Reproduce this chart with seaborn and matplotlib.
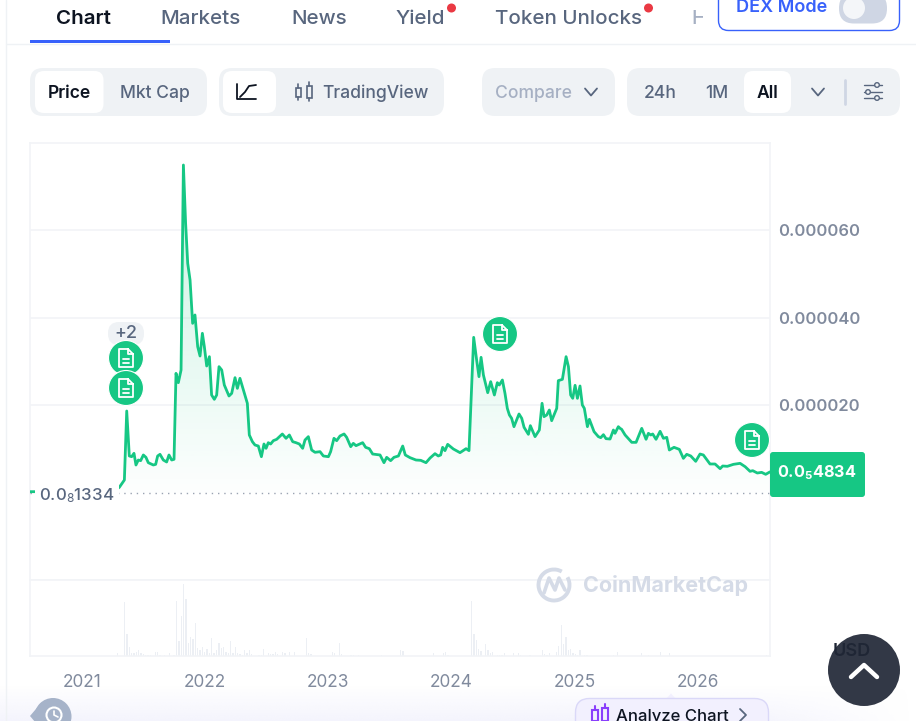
import numpy as np
import pandas as pd
import seaborn as sns
import matplotlib.pyplot as plt
from matplotlib.patches import FancyBboxPatch, Circle, Polygon, Arc

# price history, decimal year and price in millionths of a USD
price_year = [
    2020.578, 2021.254, 2021.303, 2021.344, 2021.363, 2021.384, 2021.403, 2021.422, 2021.438, 2021.457,
    2021.476, 2021.498, 2021.519, 2021.538, 2021.579, 2021.598, 2021.614, 2021.633, 2021.660, 2021.687,
    2021.706, 2021.728, 2021.747, 2021.763, 2021.782, 2021.804, 2021.823, 2021.841, 2021.858, 2021.877,
    2021.898, 2021.917, 2021.939, 2021.958, 2021.977, 2021.993, 2022.012, 2022.034, 2022.052, 2022.074,
    2022.093, 2022.112, 2022.134, 2022.155, 2022.193, 2022.215, 2022.242, 2022.261, 2022.282, 2022.310,
    2022.342, 2022.358, 2022.383, 2022.404, 2022.431, 2022.456, 2022.477, 2022.494, 2022.512, 2022.531,
    2022.553, 2022.580, 2022.626, 2022.656, 2022.683, 2022.710, 2022.737, 2022.764, 2022.791, 2022.810,
    2022.837, 2022.864, 2022.891, 2022.932, 2022.959, 2023.000, 2023.018, 2023.045, 2023.067, 2023.094,
    2023.127, 2023.148, 2023.181, 2023.202, 2023.224, 2023.278, 2023.302, 2023.332, 2023.359, 2023.419,
    2023.451, 2023.473, 2023.505, 2023.532, 2023.568, 2023.603, 2023.624, 2023.662, 2023.711, 2023.749,
    2023.792, 2023.825, 2023.865, 2023.892, 2023.911, 2023.927, 2023.946, 2023.968, 2024.014, 2024.068,
    2024.117, 2024.141, 2024.179, 2024.203, 2024.222, 2024.239, 2024.258, 2024.293, 2024.317, 2024.347,
    2024.371, 2024.387, 2024.412, 2024.433, 2024.452, 2024.469, 2024.487, 2024.506, 2024.547, 2024.569,
    2024.588, 2024.623, 2024.639, 2024.677, 2024.712, 2024.734, 2024.750, 2024.772, 2024.793, 2024.812,
    2024.853, 2024.866, 2024.899, 2024.929, 2024.948, 2024.966, 2024.983, 2025.002, 2025.021, 2025.042,
    2025.061, 2025.077, 2025.102, 2025.118, 2025.156, 2025.191, 2025.210, 2025.232, 2025.253, 2025.286,
    2025.313, 2025.326, 2025.353, 2025.367, 2025.380, 2025.408, 2025.462, 2025.497, 2025.543, 2025.578,
    2025.597, 2025.616, 2025.632, 2025.659, 2025.692, 2025.719, 2025.746, 2025.767, 2025.805, 2025.848,
    2025.881, 2025.908, 2025.941, 2025.981, 2026.016, 2026.043, 2026.097, 2026.138, 2026.179, 2026.200,
    2026.238, 2026.287, 2026.341, 2026.382, 2026.422, 2026.444, 2026.481, 2026.516, 2026.549, 2026.584,
]
price_micro = [
    0.30, 0.30, 1.30, 2.97, 18.74, 8.46, 8.30, 9.07, 6.40, 7.54,
    7.39, 8.69, 8.15, 6.93, 6.40, 6.55, 8.46, 8.84, 7.54, 7.09,
    8.69, 7.54, 7.70, 27.35, 25.22, 28.11, 74.97, 61.64, 52.50, 48.69,
    38.78, 40.69, 33.45, 31.31, 36.50, 33.45, 29.03, 31.16, 22.40, 21.41,
    22.40, 28.88, 28.11, 24.69, 22.17, 22.78, 26.36, 23.92, 26.21, 23.54,
    20.50, 13.26, 11.73, 10.97, 10.74, 8.30, 11.20, 10.21, 11.50, 11.20,
    11.96, 12.27, 13.49, 12.50, 13.26, 11.73, 11.50, 11.20, 10.21, 12.11,
    12.88, 9.83, 9.30, 9.45, 8.46, 8.30, 9.45, 12.50, 11.96, 13.03,
    13.49, 12.72, 10.59, 11.35, 10.82, 11.50, 10.44, 10.13, 8.91, 8.69,
    6.93, 8.15, 7.39, 8.15, 8.46, 10.74, 8.69, 8.08, 7.54, 7.47,
    6.93, 8.00, 8.99, 8.46, 8.69, 10.44, 9.68, 11.12, 10.06, 9.22,
    10.13, 9.68, 35.58, 30.40, 26.59, 31.01, 26.97, 22.93, 25.45, 22.40,
    25.22, 24.69, 25.83, 22.78, 19.35, 17.83, 17.07, 15.16, 18.06, 17.07,
    15.01, 13.41, 15.39, 12.88, 14.40, 20.50, 17.45, 17.83, 18.97, 16.53,
    19.35, 25.68, 25.98, 31.16, 28.88, 22.40, 21.64, 24.61, 21.64, 24.46,
    20.11, 19.35, 15.16, 16.84, 14.02, 12.88, 12.65, 13.33, 12.42, 12.34,
    14.40, 13.64, 15.16, 14.78, 14.55, 13.26, 11.58, 11.58, 14.78, 12.27,
    13.64, 13.26, 13.49, 12.27, 14.10, 12.50, 12.72, 9.83, 10.44, 9.98,
    7.92, 8.84, 8.46, 7.24, 8.91, 8.69, 6.63, 6.63, 5.56, 6.17,
    6.10, 6.55, 6.78, 6.02, 4.95, 5.10, 4.57, 4.72, 4.27, 4.83,
]

# weekly volume, relative units
volume_year = [
    2021.287, 2021.346, 2021.365, 2021.384, 2021.403, 2021.422, 2021.444, 2021.460, 2021.479, 2021.498,
    2021.517, 2021.536, 2021.555, 2021.595, 2021.614, 2021.633, 2021.671, 2021.709, 2021.747, 2021.768,
    2021.787, 2021.806, 2021.825, 2021.844, 2021.863, 2021.882, 2021.901, 2021.920, 2021.939, 2021.958,
    2021.977, 2021.996, 2022.015, 2022.034, 2022.052, 2022.071, 2022.090, 2022.112, 2022.131, 2022.150,
    2022.169, 2022.188, 2022.207, 2022.226, 2022.245, 2022.264, 2022.282, 2022.301, 2022.320, 2022.339,
    2022.358, 2022.377, 2022.437, 2022.456, 2022.475, 2022.512, 2022.531, 2022.550, 2022.569, 2022.588,
    2022.629, 2022.648, 2022.686, 2022.723, 2022.821, 2022.840, 2022.859, 2023.032, 2023.051, 2023.089,
    2023.108, 2023.183, 2023.203, 2023.243, 2023.432, 2023.587, 2023.606, 2023.854, 2023.933, 2023.952,
    2023.971, 2024.163, 2024.182, 2024.201, 2024.220, 2024.239, 2024.277, 2024.296, 2024.315, 2024.333,
    2024.371, 2024.390, 2024.409, 2024.428, 2024.504, 2024.542, 2024.561, 2024.636, 2024.737, 2024.755,
    2024.774, 2024.793, 2024.850, 2024.869, 2024.891, 2024.910, 2024.929, 2024.948, 2024.966, 2024.985,
    2025.004, 2025.023, 2025.042, 2025.080, 2025.099, 2025.313, 2025.348, 2025.540, 2025.597, 2025.694,
    2025.770, 2026.557,
]
volume_rel = [
    8, 161, 66, 26, 8, 8, 13, 18, 8, 5,
    3, 2, 3, 13, 13, 4, 4, 8, 3, 166,
    45, 120, 216, 170, 40, 58, 50, 98, 23, 18,
    26, 13, 22, 10, 53, 8, 18, 40, 23, 26,
    13, 8, 45, 8, 26, 8, 6, 4, 18, 8,
    18, 6, 4, 4, 22, 8, 6, 6, 13, 6,
    13, 8, 13, 13, 53, 8, 6, 13, 8, 40,
    6, 4, 4, 4, 4, 18, 15, 8, 8, 13,
    4, 166, 66, 48, 21, 15, 36, 18, 8, 13,
    4, 4, 4, 8, 8, 8, 4, 4, 18, 6,
    4, 8, 13, 30, 93, 36, 58, 18, 20, 8,
    6, 4, 18, 4, 4, 4, 13, 8, 4, 13,
    8, 4,
]

year_ticks = [2021, 2022, 2023, 2024, 2025, 2026]
price_ticks = [20, 40, 60]
price_tick_labels = ['0.000020', '0.000040', '0.000060']
tab_labels = ['Chart', 'Markets', 'News', 'Yield', 'Token Unlocks']

GREEN = '#16C784'
SLATE = '#58667E'
TICK = '#808A9D'
DARK = '#0D1421'
BLUE = '#3861FB'
CHIP = '#EFF2F5'
GRID = '#F2F4F7'

sns.set_theme(style='white')
plt.rcParams['font.family'] = ['Inter', 'DejaVu Sans']
plt.rcParams['mathtext.fontset'] = 'custom'
plt.rcParams['mathtext.rm'] = 'Inter'
plt.rcParams['mathtext.bf'] = 'Inter:bold'
plt.rcParams['mathtext.default'] = 'rm'

W, H = 916, 721
fig = plt.figure(figsize=(W / 100, H / 100), dpi=100, facecolor='white')

# chart panes, positioned in pixels
ax = fig.add_axes([30 / W, 1 - 580 / H, 740 / W, 437 / H])
ax_vol = fig.add_axes([30 / W, 1 - 656 / H, 740 / W, 76 / H])
xlim = (price_year[0], price_year[-1])

df = pd.DataFrame({'year': price_year, 'price': price_micro})
vol = pd.DataFrame({'year': volume_year, 'volume': volume_rel})

sns.lineplot(data=df, x='year', y='price', ax=ax, color=GREEN, lw=2.0, sort=False,
             estimator=None, errorbar=None, zorder=4)

# gradient under the line, clipped to the area
area = ax.fill_between(price_year, price_micro, 0, color='none', lw=0)
grad = np.zeros((256, 1, 4))
grad[..., :3] = (22 / 255, 199 / 255, 132 / 255)
grad[:, 0, 3] = np.linspace(0.24, 0.01, 256)
img = ax.imshow(grad, extent=[xlim[0], xlim[1], 0, max(price_micro)], aspect='auto', zorder=2)
img.set_clip_path(area.get_paths()[0], ax.transData)

ax.axhline(0, color='#9AA3B2', lw=1, ls=(0, (1, 3.5)), zorder=3)
ax.set_xlim(*xlim)
ax.set_ylim(-19.886, 80)
ax.set_yticks(price_ticks)
ax.set_yticklabels(price_tick_labels)
ax.yaxis.tick_right()
ax.set_xticks([])
ax.set_xlabel('')
ax.set_ylabel('')
ax.grid(axis='y', color=GRID, lw=1.2)
ax.tick_params(axis='y', length=0, pad=5.5, labelsize=11.9, labelcolor=TICK)
for t in ax.get_yticklabels():
    t.set_fontweight('semibold')

sns.barplot(data=vol, x='year', y='volume', ax=ax_vol, native_scale=True, color='#ECEFF4',
            saturation=1, width=0.65, linewidth=0)
ax_vol.set_xlim(*xlim)
ax_vol.set_ylim(0, 228)
ax_vol.set_yticks([])
ax_vol.set_xticks(year_ticks)
ax_vol.set_xticklabels([str(y) for y in year_ticks])
ax_vol.set_xlabel('')
ax_vol.set_ylabel('')
ax_vol.tick_params(axis='x', length=0, pad=13, labelsize=12.4, labelcolor=TICK)

for a in (ax, ax_vol):
    for s in a.spines.values():
        s.set_color(GRID)
        s.set_linewidth(1.2)

# page furniture drawn in pixel coordinates on top of the chart
ui = fig.add_axes([0, 0, 1, 1])
ui.set_xlim(0, W)
ui.set_ylim(H, 0)
ui.axis('off')
ui.patch.set_alpha(0)


def chip(x0, y0, x1, y1, r, fc, ec='none', lw=0, z=2):
    p = FancyBboxPatch((x0, y0), x1 - x0, y1 - y0, boxstyle=f'round,pad=0,rounding_size={r}',
                       fc=fc, ec=ec, lw=lw, zorder=z)
    ui.add_patch(p)


def label(x, y, s, size=12.6, color=SLATE, weight='medium', ha='center', z=5, **kw):
    return ui.text(x, y + 1.5, s, fontsize=size, color=color, fontweight=weight, ha=ha,
                   va='center', zorder=z, **kw)


def stroke(xs, ys, color='white', lw=1.5, z=6):
    ui.plot(xs, ys, color=color, lw=lw, solid_capstyle='round', solid_joinstyle='round', zorder=z)


def doc_badge(x, y):
    ui.add_patch(Circle((x, y), 17.5, fc=GREEN, ec='white', lw=0.8, zorder=6))
    stroke([x + 2, x - 7, x - 7, x + 7, x + 7, x + 2, x + 2, x + 7],
           [y - 9, y - 9, y + 9, y + 9, y - 4, y - 9, y - 4, y - 4], lw=1.3, z=7)
    stroke([x - 3, x + 3], [y + 1, y + 1], lw=1.3, z=7)
    stroke([x - 3, x + 3], [y + 5, y + 5], lw=1.3, z=7)


# bottom page tint, fading out towards the right edge
tint = np.zeros((40, 92, 4))
tint[..., :3] = (238 / 255, 238 / 255, 252 / 255)
tint[..., 3] = np.linspace(0, 0.6, 40)[:, None] * np.clip(np.linspace(9.16, 0, 92) / 1.6, 0, 1)[None, :]
ui.imshow(tint, extent=[0, W, H, 685], aspect='auto', zorder=0.5)
ui.set_xlim(0, W)
ui.set_ylim(H, 0)

# tabs
ui.plot([5.5, 5.5], [0, H], color=CHIP, lw=1, zorder=1)
ui.plot([6, W], [43.5, 43.5], color=CHIP, lw=1, zorder=1)
ui.add_patch(plt.Rectangle((30, 40), 140, 3, fc=BLUE, ec='none', zorder=3))
tab_x = [83, 200, 319, 420, 568.5]
for i, (name, x) in enumerate(zip(tab_labels, tab_x)):
    label(x, 17.5, name, size=14.8, color=DARK if i == 0 else SLATE, weight='semibold' if i == 0 else 'medium')
for x in (451.5, 648.5):
    ui.add_patch(Circle((x, 8), 4.5, fc='#EA3943', ec='none', zorder=6))
label(691.5, 17.5, 'H', size=14.8, color='#A6B0C3', ha='left')
ui.add_patch(plt.Rectangle((703, 4), 15, 30, fc='white', ec='none', zorder=5.5))

# DEX button
chip(718.5, -20, 899.5, 30.5, 10, 'white', ec=BLUE, lw=1, z=6)
label(782, 6, 'DEX Mode', size=13, color=BLUE, weight='semibold', z=7)
chip(839, -7, 887, 23.5, 15, '#CFD6E4', z=7)
ui.add_patch(Circle((854, 8), 11, fc='#F4F6F9', ec='none', zorder=8))

# control row
chip(30, 68, 207, 116, 13, CHIP)
chip(35, 71, 103.5, 113, 9, 'white', z=3)
label(69, 91.5, 'Price', color=DARK, weight='semibold')
label(154.5, 91.5, 'Mkt Cap')

chip(219, 68, 444, 116, 13, CHIP)
chip(223, 71, 276, 113, 9, 'white', z=3)
stroke([237, 237, 256], [84, 99, 99], color=DARK, lw=1.3)
stroke([240, 245, 249, 256], [97, 92, 86, 85], color=DARK, lw=1.3)
for cx, top, bot in ((298, 88, 97), (309, 86, 98)):
    ui.add_patch(plt.Rectangle((cx - 2.5, top), 5, bot - top, fc='none', ec=SLATE, lw=1.2, zorder=6))
    stroke([cx, cx], [top - 4, top], color=SLATE, lw=1.2)
    stroke([cx, cx], [bot, bot + 3], color=SLATE, lw=1.2)
label(375.5, 91.5, 'TradingView')

chip(482, 68, 615, 116, 13, CHIP)
label(534, 91.5, 'Compare', color='#A6B0C3')
stroke([585, 591, 597], [88.5, 95.5, 88.5], color=SLATE, lw=1.3)

chip(627, 68, 900, 116, 13, CHIP)
chip(744, 71, 791, 113, 9, 'white', z=3)
label(660, 91.5, '24h')
label(717, 91.5, '1M')
label(767.5, 91.5, 'All', color=DARK, weight='semibold')
stroke([812, 818, 824], [88.5, 95.5, 88.5], color=SLATE, lw=1.3)
ui.plot([845, 845], [80, 104], color='#CFD6E4', lw=2, zorder=6)
for yy, kx in ((85, 877), (92, 868), (98, 877)):
    stroke([864, 882], [yy, yy], color=SLATE, lw=1)
    ui.add_patch(Circle((kx, yy), 2.3, fc=CHIP, ec=SLATE, lw=1, zorder=7))

# chart annotations
chip(108, 322, 144, 345, 11, CHIP, z=5)
label(126, 332.5, '+2', size=13)
for bx, by in ((126, 358), (126, 388), (500, 334), (752, 440)):
    doc_badge(bx, by)

label(39, 494, r'0.0$_{8}$1334', size=12.2, color=SLATE, ha='left',
      bbox=dict(fc='white', ec='none', pad=3))
chip(770, 452, 865, 497, 3, GREEN, z=6)
label(817, 471, r'0.0$_{\mathbf{5}}$4834', size=11.7, color='white', weight='bold', z=7)

# watermark
ui.add_patch(Arc((554, 585), 31, 31, theta1=-30, theta2=300, ec='#D5DBE7', lw=2.8, zorder=3))
stroke([544, 549, 555, 559, 565], [593, 578, 590, 578, 590], color='#D5DBE7', lw=2.6, z=3)
label(665.5, 584.5, 'CoinMarketCap', size=15.5, color='#D5DBE7', weight='bold', z=3)

# bottom widgets
ui.add_patch(Circle((53, 716.5), 18.5, fc='#A6B3C9', ec='none', zorder=4))
ui.add_patch(Polygon([[30, 716], [41, 703], [41, 729]], fc='#A6B3C9', ec='none', zorder=4))
ui.add_patch(Circle((54, 715), 7.5, fc='none', ec='white', lw=1.5, zorder=5))
stroke([54, 54, 58], [711, 715, 717], lw=1.2)

ui.add_patch(Polygon([[666, 699], [671, 693.5], [676, 699]], fc='#F2F0FE', ec='none', zorder=4))
chip(575.5, 698.5, 768.5, 740, 14, '#F2F0FE', ec='#DAD8F8', lw=1, z=4)
for cx, top, bot in ((595, 710, 721), (605, 708, 721)):
    ui.add_patch(plt.Rectangle((cx - 3, top), 6, bot - top, fc='none', ec='#8A3FFC', lw=1.5, zorder=6))
    stroke([cx, cx], [top - 4, top], color='#8A3FFC', lw=1.5)
label(672, 714.5, 'Analyze Chart', size=12, color=DARK, weight='medium')
stroke([740, 746, 740], [709, 715, 721], color=SLATE, lw=1.3)

ui.add_patch(Circle((864, 670), 36, fc='#323846', ec='none', zorder=8))
label(851.5, 649.5, 'USD', size=13, color='#1F2635', weight='semibold', z=9)
stroke([851, 864, 877], [677, 665, 677], lw=3.2, z=9)

fig.savefig('out.png', dpi=100)
